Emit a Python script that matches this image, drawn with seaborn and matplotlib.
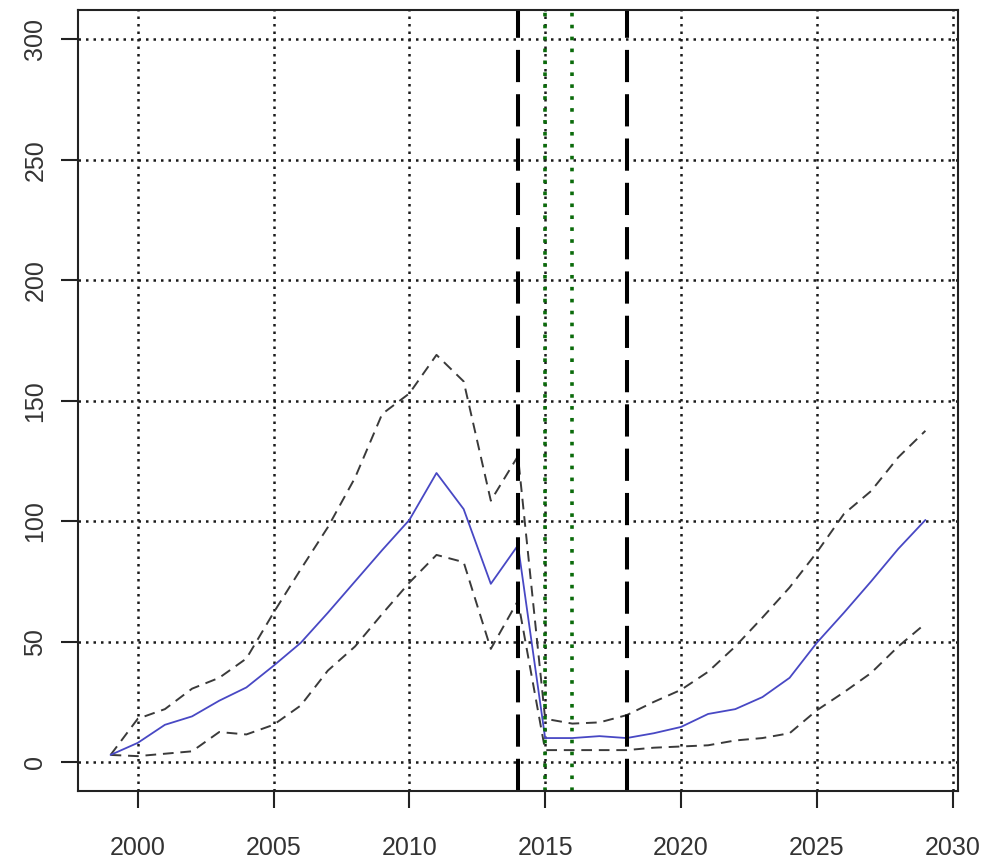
import numpy as np
import pandas as pd
import seaborn as sns
import matplotlib.pyplot as plt

years = list(range(1999, 2030))
est = [3, 8, 15.5, 19, 25.5, 31, 40, 49.5, 62, 75, 88, 100.5, 120, 105, 74, 90,
       10, 10, 10.8, 10, 12, 14.6, 20, 22, 27, 35, 49.5, 62, 75, 88.5, 100.5]
upper = [3, 18, 22, 30.5, 35, 43, 62, 80, 97.5, 118, 144.5, 153, 169, 158, 108.5, 127,
         18, 16, 16.5, 19.5, 25, 30, 37.5, 48, 60, 72.5, 87, 103, 112.5, 126.5, 137.5]
lower = [3, 2.5, 3.5, 4.5, 12.5, 11.5, 15.5, 23.5, 38, 48, 61.5, 74.5, 86, 83, 47, 67,
         5, 5, 5, 5, 6, 6.5, 7, 9, 10, 12, 21.5, 29, 37, 48, 57.5]
cut_years = [2014, 2018]
mark_years = [2015, 2016]
xticks = [2000, 2005, 2010, 2015, 2020, 2025, 2030]
yticks = [0, 50, 100, 150, 200, 250, 300]

df = pd.DataFrame({"year": years, "est": est, "upper": upper, "lower": lower})

sns.set_style("white")
plt.rcParams['font.family'] = ['Liberation Sans', 'DejaVu Sans']

fig, ax = plt.subplots(figsize=(9.87, 8.58), dpi=100)
fig.subplots_adjust(left=0.079, right=0.9706, bottom=0.078, top=0.988)

ax.set_xlim(1997.8, 2030.2)
ax.set_ylim(-12, 312)
ax.set_xticks(xticks)
ax.set_yticks(yticks)
ax.grid(True, color="#1a1a1a", linestyle=(0, (1, 2)), linewidth=1.8)
ax.set_axisbelow(True)

sns.lineplot(data=df, x="year", y="upper", ax=ax, color="#3a3a3a",
             linestyle=(0, (5.5, 3.5)), linewidth=1.4)
sns.lineplot(data=df, x="year", y="lower", ax=ax, color="#3a3a3a",
             linestyle=(0, (5.5, 3.5)), linewidth=1.4)
sns.lineplot(data=df, x="year", y="est", ax=ax, color="#4848c4", linewidth=1.3)

for yr in cut_years:
    ax.axvline(yr, color="black", linestyle=(0, (8, 3)), linewidth=2.9)
for yr in mark_years:
    ax.axvline(yr, color="#0b6b0b", linestyle=(0, (1, 2.3)), linewidth=2.6)

ax.set_xlabel("")
ax.set_ylabel("")
for s in ax.spines.values():
    s.set_color("#222222")
    s.set_linewidth(1.5)

ax.tick_params(axis="both", bottom=True, left=True, direction="out", length=12,
               width=1.5, color="#222222", labelsize=18, labelcolor="#333333")
ax.tick_params(axis="x", pad=20)
ax.tick_params(axis="y", pad=10)
for lab in ax.get_yticklabels():
    lab.set_rotation(90)
    lab.set_va("center")

plt.savefig("out.png", dpi=100)
